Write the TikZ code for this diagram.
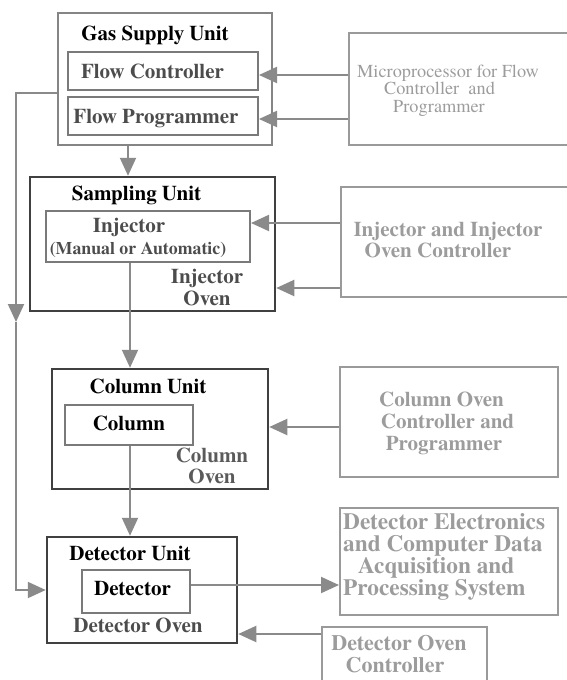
\documentclass[tikz,border=0pt]{standalone}
\usepackage{fontspec}
\setmainfont{texgyretermes}[Extension=.otf, UprightFont=*-regular, BoldFont=*-bold, ItalicFont=*-italic, BoldItalicFont=*-bolditalic]
\usetikzlibrary{arrows.meta}
\definecolor{unitbd}{HTML}{404040}
\definecolor{gasbd}{HTML}{858585}
\definecolor{partbd}{HTML}{7A7A7A}
\definecolor{ctrlbd}{HTML}{9A9A9A}
\definecolor{ctrltx}{HTML}{9C9C9C}
\definecolor{parttx}{HTML}{4C4C4C}
\definecolor{oventx}{HTML}{5A5A5A}
\definecolor{flowc}{HTML}{8A8A8A}
\tikzset{
  unitbox/.style={draw=unitbd, line width=2.5pt, minimum width=#1},
  partbox/.style={draw=partbd, line width=2pt},
  ctrlbox/.style={draw=ctrlbd, line width=2pt},
  lbl/.style={inner sep=0pt, anchor=base, font=\bfseries\fontsize{21}{22}\selectfont},
  title/.style={lbl, text=black},
  part/.style={lbl, text=parttx},
  oven/.style={lbl, text=oventx},
  ctrl/.style={lbl, text=ctrltx},
  ctrlthin/.style={inner sep=0pt, anchor=base, text=ctrltx, font=\fontsize{18.3}{19}\selectfont},
  daqtext/.style={ctrl, anchor=base west, font=\bfseries\fontsize{23.3}{23}\selectfont},
  flow/.style={draw=flowc, line width=2pt, -{Triangle[length=18pt,width=16pt]}},
}
\begin{document}
\begin{tikzpicture}[x=1pt, y=-1pt]
\useasboundingbox (0,0) rectangle (567,680);
\clip (0,0) rectangle (567,680);

% --- unit boxes on the left
\node[draw=gasbd, line width=2.5pt, minimum width=214pt, minimum height=132pt] (gas) at (165,79) {};
\node[partbox, minimum width=190pt, minimum height=38pt] (flowctl) at (163,71) {};
\node[partbox, minimum width=190pt, minimum height=38pt] (flowprog) at (163,116) {};

\node[unitbox=245pt, minimum height=134pt] (samp) at (152.5,244) {};
\node[partbox, minimum width=204pt, minimum height=51pt] (inj) at (148,236.5) {};

\node[unitbox=216pt, minimum height=120pt] (col) at (160,429) {};
\node[partbox, minimum width=128pt, minimum height=40pt] (colbox) at (129,425) {};

\node[unitbox=190pt, minimum height=106pt] (det) at (142,590) {};
\node[partbox, minimum width=108pt, minimum height=43pt] (detbox) at (136,591.5) {};

% --- controller boxes on the right
\node[ctrlbox, minimum width=251pt, minimum height=112pt] (micro) at (474.5,89) {};
\node[ctrlbox, minimum width=259pt, minimum height=110pt] (injctl) at (470.5,242) {};
\node[ctrlbox, minimum width=218pt, minimum height=110pt] (colctl) at (449,422) {};
\node[ctrlbox, minimum width=218pt, minimum height=107pt] (daq) at (449,561.5) {};
\node[ctrlbox, minimum width=165pt, minimum height=73pt] (detctl) at (404.5,663.5) {};

% --- labels
\node[title] (tgas) at (155,40) {Gas Supply Unit};
\node[part] (tflowc) at (152.5,78) {Flow Controller};
\node[part] (tflowp) at (156,123) {Flow Programmer};

\node[title] (tsamp) at (136.5,200) {Sampling Unit};
\node[part] (tinj) at (129,232) {Injector};
\node[part, font=\bfseries\fontsize{17.8}{19}\selectfont] (tman) at (138,254) {(Manual or Automatic)};
\node[oven, text=parttx] (tinjo1) at (207,283) {Injector};
\node[oven, text=parttx] (tinjo2) at (207,305) {Oven};

\node[title] (tcol) at (148,393) {Column Unit};
\node[title] (tcolb) at (129,430) {Column};
\node[oven] (tcolo1) at (212,462) {Column};
\node[oven] (tcolo2) at (212,483) {Oven};

\node[title] (tdet) at (130,560) {Detector Unit};
\node[title] (tdetb) at (132.5,595) {Detector};
\node[part] (tdeto) at (138,632) {Detector Oven};

\node[ctrlthin] (m1) at (448,77) {Microprocessor for Flow};
\node[ctrlthin] (m2) at (439.5,94) {Controller\ \ and};
\node[ctrlthin] (m3) at (439,112) {Programmer};

\node[ctrl] (i1) at (448,236) {Injector and Injector};
\node[ctrl] (i2) at (438,257) {Oven Controller};

\node[ctrl] (c1) at (441.5,406) {Column Oven};
\node[ctrl] (c2) at (447.5,428) {Controller and};
\node[ctrl] (c3) at (444,450) {Programmer};

\node[daqtext] (d1) at (343,529) {Detector Electronics};
\node[daqtext] (d2) at (343,551) {and Computer Data};
\node[daqtext] (d3) at (358,573) {Acquisition and};
\node[daqtext] (d4) at (343,595) {Processing System};

\node[ctrl, font=\bfseries\fontsize{22}{22}\selectfont] (o1) at (399,650) {Detector Oven};
\node[ctrl, font=\bfseries\fontsize{22}{22}\selectfont] (o2) at (395,672) {Controller};

% --- sample path down the middle
\draw[flow] (gas.south -| 128,0) -- (samp.north -| 128,0);
\draw[flow] (inj.south -| 130,0) -- (col.north -| 130,0);
\draw[flow] (colbox.south -| 130,0) -- (det.north -| 130,0);

% --- carrier gas bypass to the detector
\coordinate (bypass) at (16,322);
\draw[flow] (gas.west |- 0,93) -| (bypass);
\draw[flow] (bypass) |- (det.west |- 0,590);

% --- controller connections
\draw[flow] (micro.west |- 0,75) -- (flowctl.east |- 0,75);
\draw[flow] (micro.west |- 0,119) -- (flowprog.east |- 0,119);
\draw[flow] (injctl.west |- 0,223) -- (inj.east |- 0,223);
\draw[flow] (injctl.west |- 0,288) -- (samp.east |- 0,288);
\draw[flow] (colctl.west |- 0,427) -- (col.east |- 0,427);
\draw[flow] (detbox.east |- 0,585) -- (daq.west |- 0,585);
\draw[flow] (detctl.west |- 0,634) -- (det.east |- 0,634);
\end{tikzpicture}
\end{document}
